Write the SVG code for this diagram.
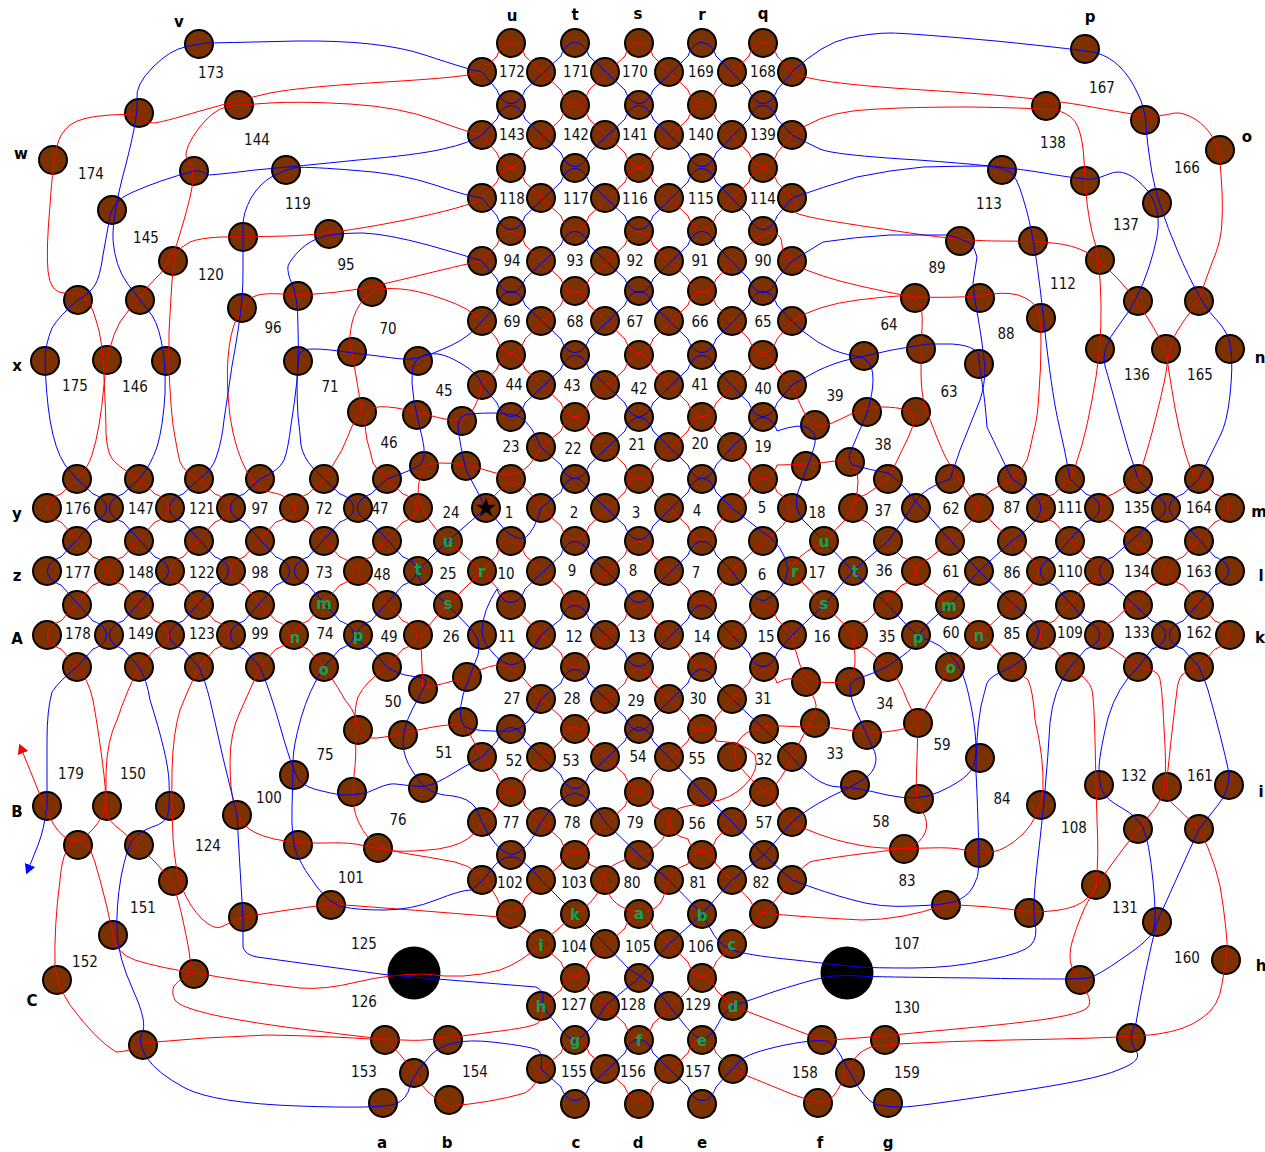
<svg xmlns="http://www.w3.org/2000/svg" width="1265" height="1152" viewBox="0 0 1265 1152">
<style>
#nodes circle{fill:#7b3100;stroke:#000;stroke-width:2}
#connectors path{fill:none;stroke-width:1}
.r{stroke:#f00}
.b{stroke:#00f}
text{text-anchor:middle;dominant-baseline:central;font-family:"DejaVu Sans Condensed","DejaVu Sans",sans-serif;font-stretch:condensed;font-size:15px;fill:#111}
.L text{font-weight:bold;fill:#000;font-stretch:normal;font-family:"DejaVu Sans",sans-serif}
.G text{font-weight:bold;fill:#0aa550;font-stretch:normal;font-family:"DejaVu Sans",sans-serif}
</style>
<defs>
<marker id="ar" markerUnits="userSpaceOnUse" markerWidth="12" markerHeight="12" refX="0" refY="6" orient="auto"><path d="M0 .5L10 6L0 11.500Z" fill="#f00"/></marker>
<marker id="ab" markerUnits="userSpaceOnUse" markerWidth="12" markerHeight="12" refX="0" refY="6" orient="auto"><path d="M0 .5L10 6L0 11.500Z" fill="#00f"/></marker>
</defs>
<rect width="1265" height="1152" fill="#fff"/>
<g id="nodes">
<g id="n511_43"><circle cx="511" cy="43" r="14"/></g><g id="n575_43"><circle cx="575" cy="43" r="14"/></g><g id="n639_43"><circle cx="639" cy="43" r="14"/></g><g id="n702_43"><circle cx="702" cy="43" r="14"/></g><g id="n763_43"><circle cx="763" cy="43" r="14"/></g>
<g id="n482_72"><circle cx="482" cy="72" r="14"/></g><g id="n541_72"><circle cx="541" cy="72" r="14"/></g><g id="n605_72"><circle cx="605" cy="72" r="14"/></g><g id="n669_72"><circle cx="669" cy="72" r="14"/></g><g id="n732_72"><circle cx="732" cy="72" r="14"/></g><g id="n792_72"><circle cx="792" cy="72" r="14"/></g>
<g id="n511_105"><circle cx="511" cy="105" r="14"/></g><g id="n575_105"><circle cx="575" cy="105" r="14"/></g><g id="n639_105"><circle cx="639" cy="105" r="14"/></g><g id="n702_105"><circle cx="702" cy="105" r="14"/></g><g id="n763_105"><circle cx="763" cy="105" r="14"/></g>
<g id="n482_135"><circle cx="482" cy="135" r="14"/></g><g id="n541_135"><circle cx="541" cy="135" r="14"/></g><g id="n605_135"><circle cx="605" cy="135" r="14"/></g><g id="n669_135"><circle cx="669" cy="135" r="14"/></g><g id="n732_135"><circle cx="732" cy="135" r="14"/></g><g id="n792_135"><circle cx="792" cy="135" r="14"/></g>
<g id="n511_168"><circle cx="511" cy="168" r="14"/></g><g id="n575_168"><circle cx="575" cy="168" r="14"/></g><g id="n639_168"><circle cx="639" cy="168" r="14"/></g><g id="n702_168"><circle cx="702" cy="168" r="14"/></g><g id="n763_168"><circle cx="763" cy="168" r="14"/></g>
<g id="n482_198"><circle cx="482" cy="198" r="14"/></g><g id="n541_198"><circle cx="541" cy="198" r="14"/></g><g id="n605_198"><circle cx="605" cy="198" r="14"/></g><g id="n669_198"><circle cx="669" cy="198" r="14"/></g><g id="n732_198"><circle cx="732" cy="198" r="14"/></g><g id="n792_198"><circle cx="792" cy="198" r="14"/></g>
<g id="n511_231"><circle cx="511" cy="231" r="14"/></g><g id="n575_231"><circle cx="575" cy="231" r="14"/></g><g id="n639_231"><circle cx="639" cy="231" r="14"/></g><g id="n702_231"><circle cx="702" cy="231" r="14"/></g><g id="n763_231"><circle cx="763" cy="231" r="14"/></g>
<g id="n482_261"><circle cx="482" cy="261" r="14"/></g><g id="n541_261"><circle cx="541" cy="261" r="14"/></g><g id="n605_261"><circle cx="605" cy="261" r="14"/></g><g id="n669_261"><circle cx="669" cy="261" r="14"/></g><g id="n732_261"><circle cx="732" cy="261" r="14"/></g><g id="n792_261"><circle cx="792" cy="261" r="14"/></g>
<g id="n511_291"><circle cx="511" cy="291" r="14"/></g><g id="n575_291"><circle cx="575" cy="291" r="14"/></g><g id="n639_291"><circle cx="639" cy="291" r="14"/></g><g id="n702_291"><circle cx="702" cy="291" r="14"/></g><g id="n763_291"><circle cx="763" cy="291" r="14"/></g>
<g id="n482_321"><circle cx="482" cy="321" r="14"/></g><g id="n541_321"><circle cx="541" cy="321" r="14"/></g><g id="n605_321"><circle cx="605" cy="321" r="14"/></g><g id="n669_321"><circle cx="669" cy="321" r="14"/></g><g id="n732_321"><circle cx="732" cy="321" r="14"/></g><g id="n792_321"><circle cx="792" cy="321" r="14"/></g>
<g id="n511_355"><circle cx="511" cy="355" r="14"/></g><g id="n575_355"><circle cx="575" cy="355" r="14"/></g><g id="n639_355"><circle cx="639" cy="355" r="14"/></g><g id="n702_355"><circle cx="702" cy="355" r="14"/></g><g id="n763_355"><circle cx="763" cy="355" r="14"/></g>
<g id="n482_385"><circle cx="482" cy="385" r="14"/></g><g id="n541_385"><circle cx="541" cy="385" r="14"/></g><g id="n605_385"><circle cx="605" cy="385" r="14"/></g><g id="n669_385"><circle cx="669" cy="385" r="14"/></g><g id="n732_385"><circle cx="732" cy="385" r="14"/></g><g id="n792_385"><circle cx="792" cy="385" r="14"/></g>
<g id="n511_417"><circle cx="511" cy="417" r="14"/></g><g id="n575_417"><circle cx="575" cy="417" r="14"/></g><g id="n639_417"><circle cx="639" cy="417" r="14"/></g><g id="n702_417"><circle cx="702" cy="417" r="14"/></g><g id="n763_417"><circle cx="763" cy="417" r="14"/></g>
<g id="n541_447"><circle cx="541" cy="447" r="14"/></g><g id="n605_447"><circle cx="605" cy="447" r="14"/></g><g id="n669_447"><circle cx="669" cy="447" r="14"/></g><g id="n732_447"><circle cx="732" cy="447" r="14"/></g>
<g id="n511_479"><circle cx="511" cy="479" r="14"/></g><g id="n575_479"><circle cx="575" cy="479" r="14"/></g><g id="n639_479"><circle cx="639" cy="479" r="14"/></g><g id="n702_479"><circle cx="702" cy="479" r="14"/></g><g id="n763_479"><circle cx="763" cy="479" r="14"/></g>
<g id="n486_508"><circle cx="486" cy="508" r="14"/></g><g id="n541_508"><circle cx="541" cy="508" r="14"/></g><g id="n605_508"><circle cx="605" cy="508" r="14"/></g><g id="n669_508"><circle cx="669" cy="508" r="14"/></g><g id="n732_508"><circle cx="732" cy="508" r="14"/></g><g id="n792_508"><circle cx="792" cy="508" r="14"/></g>
<g id="n511_541"><circle cx="511" cy="541" r="14"/></g><g id="n575_541"><circle cx="575" cy="541" r="14"/></g><g id="n639_541"><circle cx="639" cy="541" r="14"/></g><g id="n702_541"><circle cx="702" cy="541" r="14"/></g><g id="n763_541"><circle cx="763" cy="541" r="14"/></g>
<g id="n482_571"><circle cx="482" cy="571" r="14"/></g><g id="n541_571"><circle cx="541" cy="571" r="14"/></g><g id="n605_571"><circle cx="605" cy="571" r="14"/></g><g id="n669_571"><circle cx="669" cy="571" r="14"/></g><g id="n732_571"><circle cx="732" cy="571" r="14"/></g><g id="n792_571"><circle cx="792" cy="571" r="14"/></g>
<g id="n511_605"><circle cx="511" cy="605" r="14"/></g><g id="n575_605"><circle cx="575" cy="605" r="14"/></g><g id="n639_605"><circle cx="639" cy="605" r="14"/></g><g id="n702_605"><circle cx="702" cy="605" r="14"/></g><g id="n764_605"><circle cx="764" cy="605" r="14"/></g>
<g id="n482_635"><circle cx="482" cy="635" r="14"/></g><g id="n541_635"><circle cx="541" cy="635" r="14"/></g><g id="n605_635"><circle cx="605" cy="635" r="14"/></g><g id="n669_635"><circle cx="669" cy="635" r="14"/></g><g id="n732_635"><circle cx="732" cy="635" r="14"/></g><g id="n792_635"><circle cx="792" cy="635" r="14"/></g>
<g id="n511_667"><circle cx="511" cy="667" r="14"/></g><g id="n575_667"><circle cx="575" cy="667" r="14"/></g><g id="n639_667"><circle cx="639" cy="667" r="14"/></g><g id="n702_667"><circle cx="702" cy="667" r="14"/></g><g id="n764_667"><circle cx="764" cy="667" r="14"/></g>
<g id="n541_699"><circle cx="541" cy="699" r="14"/></g><g id="n605_699"><circle cx="605" cy="699" r="14"/></g><g id="n669_699"><circle cx="669" cy="699" r="14"/></g><g id="n732_699"><circle cx="732" cy="699" r="14"/></g>
<g id="n511_729"><circle cx="511" cy="729" r="14"/></g><g id="n575_729"><circle cx="575" cy="729" r="14"/></g><g id="n639_729"><circle cx="639" cy="729" r="14"/></g><g id="n702_729"><circle cx="702" cy="729" r="14"/></g><g id="n764_729"><circle cx="764" cy="729" r="14"/></g>
<g id="n482_757"><circle cx="482" cy="757" r="14"/></g><g id="n541_757"><circle cx="541" cy="757" r="14"/></g><g id="n605_757"><circle cx="605" cy="757" r="14"/></g><g id="n669_757"><circle cx="669" cy="757" r="14"/></g><g id="n732_757"><circle cx="732" cy="757" r="14"/></g><g id="n792_757"><circle cx="792" cy="757" r="14"/></g>
<g id="n511_792"><circle cx="511" cy="792" r="14"/></g><g id="n575_792"><circle cx="575" cy="792" r="14"/></g><g id="n639_792"><circle cx="639" cy="792" r="14"/></g><g id="n702_792"><circle cx="702" cy="792" r="14"/></g><g id="n764_792"><circle cx="764" cy="792" r="14"/></g>
<g id="n482_822"><circle cx="482" cy="822" r="14"/></g><g id="n541_822"><circle cx="541" cy="822" r="14"/></g><g id="n605_822"><circle cx="605" cy="822" r="14"/></g><g id="n669_822"><circle cx="669" cy="822" r="14"/></g><g id="n732_822"><circle cx="732" cy="822" r="14"/></g><g id="n792_822"><circle cx="792" cy="822" r="14"/></g>
<g id="n511_855"><circle cx="511" cy="855" r="14"/></g><g id="n575_855"><circle cx="575" cy="855" r="14"/></g><g id="n639_855"><circle cx="639" cy="855" r="14"/></g><g id="n702_855"><circle cx="702" cy="855" r="14"/></g><g id="n764_855"><circle cx="764" cy="855" r="14"/></g>
<g id="n482_880"><circle cx="482" cy="880" r="14"/></g><g id="n541_880"><circle cx="541" cy="880" r="14"/></g><g id="n605_880"><circle cx="605" cy="880" r="14"/></g><g id="n669_880"><circle cx="669" cy="880" r="14"/></g><g id="n732_880"><circle cx="732" cy="880" r="14"/></g><g id="n792_880"><circle cx="792" cy="880" r="14"/></g>
<g id="n511_914"><circle cx="511" cy="914" r="14"/></g><g id="n575_914"><circle cx="575" cy="914" r="14"/></g><g id="n639_914"><circle cx="639" cy="914" r="14"/></g><g id="n702_914"><circle cx="702" cy="914" r="14"/></g><g id="n764_914"><circle cx="764" cy="914" r="14"/></g>
<g id="n541_944"><circle cx="541" cy="944" r="14"/></g><g id="n605_944"><circle cx="605" cy="944" r="14"/></g><g id="n669_944"><circle cx="669" cy="944" r="14"/></g><g id="n732_944"><circle cx="732" cy="944" r="14"/></g>
<g id="n575_978"><circle cx="575" cy="978" r="14"/></g><g id="n639_978"><circle cx="639" cy="978" r="14"/></g><g id="n702_978"><circle cx="702" cy="978" r="14"/></g>
<g id="n541_1006"><circle cx="541" cy="1006" r="14"/></g><g id="n605_1006"><circle cx="605" cy="1006" r="14"/></g><g id="n669_1006"><circle cx="669" cy="1006" r="14"/></g><g id="n733_1006"><circle cx="733" cy="1006" r="14"/></g>
<g id="n575_1040"><circle cx="575" cy="1040" r="14"/></g><g id="n639_1040"><circle cx="639" cy="1040" r="14"/></g><g id="n702_1040"><circle cx="702" cy="1040" r="14"/></g>
<g id="n541_1069"><circle cx="541" cy="1069" r="14"/></g><g id="n605_1069"><circle cx="605" cy="1069" r="14"/></g><g id="n669_1069"><circle cx="669" cy="1069" r="14"/></g><g id="n733_1069"><circle cx="733" cy="1069" r="14"/></g>
<g id="n575_1104"><circle cx="575" cy="1104" r="14"/></g><g id="n639_1104"><circle cx="639" cy="1104" r="14"/></g><g id="n702_1104"><circle cx="702" cy="1104" r="14"/></g>
<g id="n77_479"><circle cx="77" cy="479" r="14"/></g><g id="n139_479"><circle cx="139" cy="479" r="14"/></g><g id="n199_479"><circle cx="199" cy="479" r="14"/></g><g id="n260_479"><circle cx="260" cy="479" r="14"/></g><g id="n324_479"><circle cx="324" cy="479" r="14"/></g><g id="n387_479"><circle cx="387" cy="479" r="14"/></g><g id="n424_466"><circle cx="424" cy="466" r="14"/></g><g id="n466_466"><circle cx="466" cy="466" r="14"/></g>
<g id="n47_508"><circle cx="47" cy="508" r="14"/></g><g id="n109_508"><circle cx="109" cy="508" r="14"/></g><g id="n170_508"><circle cx="170" cy="508" r="14"/></g><g id="n231_508"><circle cx="231" cy="508" r="14"/></g><g id="n294_508"><circle cx="294" cy="508" r="14"/></g><g id="n358_508"><circle cx="358" cy="508" r="14"/></g><g id="n418_508"><circle cx="418" cy="508" r="14"/></g>
<g id="n77_541"><circle cx="77" cy="541" r="14"/></g><g id="n139_541"><circle cx="139" cy="541" r="14"/></g><g id="n199_541"><circle cx="199" cy="541" r="14"/></g><g id="n260_541"><circle cx="260" cy="541" r="14"/></g><g id="n324_541"><circle cx="324" cy="541" r="14"/></g><g id="n387_541"><circle cx="387" cy="541" r="14"/></g><g id="n448_541"><circle cx="448" cy="541" r="14"/></g>
<g id="n47_571"><circle cx="47" cy="571" r="14"/></g><g id="n109_571"><circle cx="109" cy="571" r="14"/></g><g id="n170_571"><circle cx="170" cy="571" r="14"/></g><g id="n231_571"><circle cx="231" cy="571" r="14"/></g><g id="n294_571"><circle cx="294" cy="571" r="14"/></g><g id="n358_571"><circle cx="358" cy="571" r="14"/></g><g id="n418_571"><circle cx="418" cy="571" r="14"/></g>
<g id="n77_605"><circle cx="77" cy="605" r="14"/></g><g id="n139_605"><circle cx="139" cy="605" r="14"/></g><g id="n199_605"><circle cx="199" cy="605" r="14"/></g><g id="n260_605"><circle cx="260" cy="605" r="14"/></g><g id="n324_605"><circle cx="324" cy="605" r="14"/></g><g id="n387_605"><circle cx="387" cy="605" r="14"/></g><g id="n448_605"><circle cx="448" cy="605" r="14"/></g>
<g id="n47_635"><circle cx="47" cy="635" r="14"/></g><g id="n109_635"><circle cx="109" cy="635" r="14"/></g><g id="n170_635"><circle cx="170" cy="635" r="14"/></g><g id="n231_635"><circle cx="231" cy="635" r="14"/></g><g id="n294_635"><circle cx="294" cy="635" r="14"/></g><g id="n358_635"><circle cx="358" cy="635" r="14"/></g><g id="n418_635"><circle cx="418" cy="635" r="14"/></g>
<g id="n77_667"><circle cx="77" cy="667" r="14"/></g><g id="n139_667"><circle cx="139" cy="667" r="14"/></g><g id="n199_667"><circle cx="199" cy="667" r="14"/></g><g id="n260_667"><circle cx="260" cy="667" r="14"/></g><g id="n324_667"><circle cx="324" cy="667" r="14"/></g><g id="n387_667"><circle cx="387" cy="667" r="14"/></g><g id="n423_689"><circle cx="423" cy="689" r="14"/></g><g id="n467_677"><circle cx="467" cy="677" r="14"/></g>
<g id="n888_479"><circle cx="888" cy="479" r="14"/></g><g id="n950_479"><circle cx="950" cy="479" r="14"/></g><g id="n1012_479"><circle cx="1012" cy="479" r="14"/></g><g id="n1070_479"><circle cx="1070" cy="479" r="14"/></g><g id="n1138_479"><circle cx="1138" cy="479" r="14"/></g><g id="n1199_479"><circle cx="1199" cy="479" r="14"/></g><g id="n806_466"><circle cx="806" cy="466" r="14"/></g><g id="n850_462"><circle cx="850" cy="462" r="14"/></g>
<g id="n853_508"><circle cx="853" cy="508" r="14"/></g><g id="n916_508"><circle cx="916" cy="508" r="14"/></g><g id="n979_508"><circle cx="979" cy="508" r="14"/></g><g id="n1041_508"><circle cx="1041" cy="508" r="14"/></g><g id="n1099_508"><circle cx="1099" cy="508" r="14"/></g><g id="n1166_508"><circle cx="1166" cy="508" r="14"/></g><g id="n1230_508"><circle cx="1230" cy="508" r="14"/></g>
<g id="n824_541"><circle cx="824" cy="541" r="14"/></g><g id="n888_541"><circle cx="888" cy="541" r="14"/></g><g id="n950_541"><circle cx="950" cy="541" r="14"/></g><g id="n1012_541"><circle cx="1012" cy="541" r="14"/></g><g id="n1070_541"><circle cx="1070" cy="541" r="14"/></g><g id="n1138_541"><circle cx="1138" cy="541" r="14"/></g><g id="n1199_541"><circle cx="1199" cy="541" r="14"/></g>
<g id="n853_571"><circle cx="853" cy="571" r="14"/></g><g id="n916_571"><circle cx="916" cy="571" r="14"/></g><g id="n979_571"><circle cx="979" cy="571" r="14"/></g><g id="n1041_571"><circle cx="1041" cy="571" r="14"/></g><g id="n1099_571"><circle cx="1099" cy="571" r="14"/></g><g id="n1166_571"><circle cx="1166" cy="571" r="14"/></g><g id="n1230_571"><circle cx="1230" cy="571" r="14"/></g>
<g id="n824_605"><circle cx="824" cy="605" r="14"/></g><g id="n888_605"><circle cx="888" cy="605" r="14"/></g><g id="n950_605"><circle cx="950" cy="605" r="14"/></g><g id="n1012_605"><circle cx="1012" cy="605" r="14"/></g><g id="n1070_605"><circle cx="1070" cy="605" r="14"/></g><g id="n1138_605"><circle cx="1138" cy="605" r="14"/></g><g id="n1199_605"><circle cx="1199" cy="605" r="14"/></g>
<g id="n853_635"><circle cx="853" cy="635" r="14"/></g><g id="n916_635"><circle cx="916" cy="635" r="14"/></g><g id="n979_635"><circle cx="979" cy="635" r="14"/></g><g id="n1041_635"><circle cx="1041" cy="635" r="14"/></g><g id="n1099_635"><circle cx="1099" cy="635" r="14"/></g><g id="n1166_635"><circle cx="1166" cy="635" r="14"/></g><g id="n1230_635"><circle cx="1230" cy="635" r="14"/></g>
<g id="n888_667"><circle cx="888" cy="667" r="14"/></g><g id="n950_667"><circle cx="950" cy="667" r="14"/></g><g id="n1012_667"><circle cx="1012" cy="667" r="14"/></g><g id="n1070_667"><circle cx="1070" cy="667" r="14"/></g><g id="n1138_667"><circle cx="1138" cy="667" r="14"/></g><g id="n1199_667"><circle cx="1199" cy="667" r="14"/></g><g id="n806_682"><circle cx="806" cy="682" r="14"/></g><g id="n850_682"><circle cx="850" cy="682" r="14"/></g>
<g id="n199_44"><circle cx="199" cy="44" r="14"/></g><g id="n139_113"><circle cx="139" cy="113" r="14"/></g><g id="n239_105"><circle cx="239" cy="105" r="14"/></g><g id="n53_160"><circle cx="53" cy="160" r="14"/></g><g id="n194_171"><circle cx="194" cy="171" r="14"/></g><g id="n286_170"><circle cx="286" cy="170" r="14"/></g><g id="n112_210"><circle cx="112" cy="210" r="14"/></g><g id="n243_237"><circle cx="243" cy="237" r="14"/></g><g id="n329_234"><circle cx="329" cy="234" r="14"/></g><g id="n173_261"><circle cx="173" cy="261" r="14"/></g><g id="n78_300"><circle cx="78" cy="300" r="14"/></g><g id="n140_300"><circle cx="140" cy="300" r="14"/></g><g id="n298_296"><circle cx="298" cy="296" r="14"/></g><g id="n372_292"><circle cx="372" cy="292" r="14"/></g><g id="n242_308"><circle cx="242" cy="308" r="14"/></g><g id="n45_361"><circle cx="45" cy="361" r="14"/></g><g id="n107_360"><circle cx="107" cy="360" r="14"/></g><g id="n166_361"><circle cx="166" cy="361" r="14"/></g><g id="n298_361"><circle cx="298" cy="361" r="14"/></g><g id="n352_352"><circle cx="352" cy="352" r="14"/></g><g id="n418_361"><circle cx="418" cy="361" r="14"/></g><g id="n362_412"><circle cx="362" cy="412" r="14"/></g><g id="n417_415"><circle cx="417" cy="415" r="14"/></g><g id="n462_421"><circle cx="462" cy="421" r="14"/></g>
<g id="n1085_49"><circle cx="1085" cy="49" r="14"/></g><g id="n1046_106"><circle cx="1046" cy="106" r="14"/></g><g id="n1145_120"><circle cx="1145" cy="120" r="14"/></g><g id="n1220_150"><circle cx="1220" cy="150" r="14"/></g><g id="n1002_170"><circle cx="1002" cy="170" r="14"/></g><g id="n1085_181"><circle cx="1085" cy="181" r="14"/></g><g id="n1157_203"><circle cx="1157" cy="203" r="14"/></g><g id="n960_241"><circle cx="960" cy="241" r="14"/></g><g id="n1033_241"><circle cx="1033" cy="241" r="14"/></g><g id="n1100_260"><circle cx="1100" cy="260" r="14"/></g><g id="n915_298"><circle cx="915" cy="298" r="14"/></g><g id="n980_298"><circle cx="980" cy="298" r="14"/></g><g id="n1041_318"><circle cx="1041" cy="318" r="14"/></g><g id="n1138_301"><circle cx="1138" cy="301" r="14"/></g><g id="n1199_301"><circle cx="1199" cy="301" r="14"/></g><g id="n1100_349"><circle cx="1100" cy="349" r="14"/></g><g id="n1166_349"><circle cx="1166" cy="349" r="14"/></g><g id="n1230_349"><circle cx="1230" cy="349" r="14"/></g><g id="n864_356"><circle cx="864" cy="356" r="14"/></g><g id="n921_349"><circle cx="921" cy="349" r="14"/></g><g id="n979_364"><circle cx="979" cy="364" r="14"/></g><g id="n815_425"><circle cx="815" cy="425" r="14"/></g><g id="n867_412"><circle cx="867" cy="412" r="14"/></g><g id="n916_412"><circle cx="916" cy="412" r="14"/></g>
<g id="n47_806"><circle cx="47" cy="806" r="14"/></g><g id="n107_806"><circle cx="107" cy="806" r="14"/></g><g id="n170_806"><circle cx="170" cy="806" r="14"/></g><g id="n78_845"><circle cx="78" cy="845" r="14"/></g><g id="n139_845"><circle cx="139" cy="845" r="14"/></g><g id="n173_881"><circle cx="173" cy="881" r="14"/></g><g id="n113_935"><circle cx="113" cy="935" r="14"/></g><g id="n57_980"><circle cx="57" cy="980" r="14"/></g><g id="n194_974"><circle cx="194" cy="974" r="14"/></g><g id="n143_1045"><circle cx="143" cy="1045" r="14"/></g><g id="n237_815"><circle cx="237" cy="815" r="14"/></g><g id="n294_775"><circle cx="294" cy="775" r="14"/></g><g id="n298_845"><circle cx="298" cy="845" r="14"/></g><g id="n243_917"><circle cx="243" cy="917" r="14"/></g><g id="n331_905"><circle cx="331" cy="905" r="14"/></g><g id="n378_848"><circle cx="378" cy="848" r="14"/></g><g id="n352_792"><circle cx="352" cy="792" r="14"/></g><g id="n358_730"><circle cx="358" cy="730" r="14"/></g><g id="n403_735"><circle cx="403" cy="735" r="14"/></g><g id="n423_788"><circle cx="423" cy="788" r="14"/></g><g id="n463_722"><circle cx="463" cy="722" r="14"/></g><g id="n385_1040"><circle cx="385" cy="1040" r="14"/></g><g id="n448_1040"><circle cx="448" cy="1040" r="14"/></g><g id="n414_1073"><circle cx="414" cy="1073" r="14"/></g><g id="n383_1103"><circle cx="383" cy="1103" r="14"/></g><g id="n449_1100"><circle cx="449" cy="1100" r="14"/></g>
<g id="n815_723"><circle cx="815" cy="723" r="14"/></g><g id="n867_735"><circle cx="867" cy="735" r="14"/></g><g id="n918_723"><circle cx="918" cy="723" r="14"/></g><g id="n855_785"><circle cx="855" cy="785" r="14"/></g><g id="n980_758"><circle cx="980" cy="758" r="14"/></g><g id="n919_799"><circle cx="919" cy="799" r="14"/></g><g id="n904_849"><circle cx="904" cy="849" r="14"/></g><g id="n979_853"><circle cx="979" cy="853" r="14"/></g><g id="n1041_805"><circle cx="1041" cy="805" r="14"/></g><g id="n946_905"><circle cx="946" cy="905" r="14"/></g><g id="n1029_913"><circle cx="1029" cy="913" r="14"/></g><g id="n1099_785"><circle cx="1099" cy="785" r="14"/></g><g id="n1167_787"><circle cx="1167" cy="787" r="14"/></g><g id="n1138_829"><circle cx="1138" cy="829" r="14"/></g><g id="n1199_829"><circle cx="1199" cy="829" r="14"/></g><g id="n1096_885"><circle cx="1096" cy="885" r="14"/></g><g id="n1157_922"><circle cx="1157" cy="922" r="14"/></g><g id="n1229_785"><circle cx="1229" cy="785" r="14"/></g><g id="n1226_960"><circle cx="1226" cy="960" r="14"/></g><g id="n1080_980"><circle cx="1080" cy="980" r="14"/></g><g id="n1131_1038"><circle cx="1131" cy="1038" r="14"/></g><g id="n822_1040"><circle cx="822" cy="1040" r="14"/></g><g id="n885_1040"><circle cx="885" cy="1040" r="14"/></g><g id="n850_1073"><circle cx="850" cy="1073" r="14"/></g><g id="n818_1103"><circle cx="818" cy="1103" r="14"/></g><g id="n888_1103"><circle cx="888" cy="1103" r="14"/></g>
</g>
<g id="holes"><circle cx="414" cy="973" r="26.500" fill="#000"/><circle cx="847" cy="973" r="26.500" fill="#000"/></g>
<g id="connectors">
<path class="r" d="M482 72Q470 77 385 82Q300 87 270 93Q239 100 200 111Q160 123 153 123Q147 123 143 118Q139 113 110 115Q80 117 70 125Q60 133 57 146Q53 160 50 205Q46 250 48 271Q50 293 64 293Q78 293 84 296Q90 300 96 320Q103 340 104 378Q106 417 106 433Q107 450 111 457Q115 465 139 479l16 15c18 6 18 22 0 28l-32 35c-18 6-18 22 0 28l32 36c18 6 18 22 0 28l-16 18Q127 690 117 720Q107 740 106 773Q106 806 106 813Q107 820 123 832Q139 845 156 863Q173 881 176 893Q180 905 187 940Q194 974 186 977Q178 980 174 986Q171 993 175 1000Q179 1007 214 1015Q250 1023 317 1031Q385 1040 403 1040Q421 1041 434 1039Q448 1038 492 1032Q536 1027 539 1022Q543 1018 541 1006l20-16c6-18 22-18 28 0l36 34c6 18 22 18 28 0l35-34c6-18 22-18 28 0l16 16"/>
<path class="r" d="M482 72l15-16c6-18 22-18 28 0l36 34c6 18 22 18 28 0l36-34c6-18 22-18 28 0l35 34c6 18 22 18 28 0l33-34c6-18 22-18 28 0l15 16Q807 83 923 90Q1040 97 1092 107Q1145 117 1156 116Q1167 115 1175 113Q1183 112 1195 119Q1207 127 1213 138Q1220 150 1221 175Q1223 200 1222 220Q1222 240 1212 263Q1203 287 1201 294Q1199 301 1188 315Q1177 330 1172 341Q1168 353 1167 365Q1166 377 1157 413Q1148 450 1138 479l-25 15c-18 6-18 22 0 28l39 35c18 6 18 22 0 28l-39 36c-18 6-18 22 0 28l25 18Q1157 670 1159 676Q1162 683 1164 728Q1167 773 1164 788Q1161 803 1149 816Q1138 829 1117 857Q1096 885 1085 907Q1075 930 1071 946Q1068 963 1074 971Q1080 980 1086 991Q1093 1003 1087 1008Q1082 1013 1053 1018Q1024 1023 934 1031Q844 1040 822 1040L733 1006"/>
<path class="r" marker-end="url(#ar)" d="M482 135Q470 133 435 120Q400 107 350 104Q300 101 270 103Q239 105 226 107Q213 110 199 128Q185 147 186 156Q194 167 193 180Q192 193 182 227Q173 261 160 274Q147 287 143 293Q132 305 120 322Q107 345 104 385Q100 430 92 455Q87 470 77 479l-16 15c-18 6-18 22 0 28l32 35c18 6 18 22 0 28l-32 36c-18 6-18 22 0 28l16 18Q88 678 93 700Q100 740 104 775Q107 800 104 812Q98 825 89 833Q78 843 70 840Q62 837 54 825Q44 808 36 785L23 753"/>
<path class="r" d="M482 135l15 18c6 18 22 18 28 0l36-34c6-18 22-18 28 0l36 34c6 18 22 18 28 0l35-34c6-18 22-18 28 0l33 34c6 18 22 18 28 0l15-18Q817 115 853 111Q890 107 968 107Q1046 108 1059 111Q1073 115 1078 127Q1083 140 1084 160Q1085 180 1087 203Q1090 227 1095 243Q1100 260 1101 304Q1102 349 1092 400Q1083 450 1070 479l-16 15c-18 6-18 22 0 28l32 35c18 6 18 22 0 28l-32 36c-18 6-18 22 0 28l16 18"/>
<path class="r" d="M482 198Q470 207 400 221Q329 235 286 236Q243 237 221 237Q200 238 190 242Q180 247 176 254Q173 261 171 297Q168 333 169 366Q170 400 173 425Q177 450 180 462Q185 473 199 479l16 15c18 6 18 22 0 28l-32 35c-18 6-18 22 0 28l32 36c18 6 18 22 0 28l-16 18Q190 685 180 710Q173 733 172 770Q171 806 173 838Q175 870 182 888Q190 907 202 919Q214 930 221 927Q229 923 243 917Q285 910 331 904Q415 910 500 917Q525 925 541 944l20 18c6 18 22 18 28 0l36-34c6-18 22-18 28 0l35 34c6 18 22 18 28 0l16-18"/>
<path class="r" d="M482 198l15-16c6-18 22-18 28 0l36 34c6 18 22 18 28 0l36-34c6-18 22-18 28 0l35 34c6 18 22 18 28 0l33-34c6-18 22-18 28 0l15 16Q797 207 795 210Q792 213 806 216Q820 220 890 230Q960 241 996 241Q1033 241 1053 243Q1073 245 1086 252Q1100 260 1119 280Q1138 301 1152 325Q1166 349 1167 358Q1168 367 1175 408Q1183 450 1190 467Q1192 473 1199 479l16 15c18 6 18 22 0 28l-32 35c-18 6-18 22 0 28l32 36c18 6 18 22 0 28l-16 18Q1187 670 1182 675Q1178 680 1177 690Q1172 730 1169 760Q1167 773 1167 790Q1167 798 1172 803L1199 829Q1219 867 1223 905Q1228 943 1227 952Q1226 960 1222 984Q1219 1007 1202 1018Q1186 1030 1158 1034Q1131 1038 1008 1040Q885 1043 871 1047Q858 1052 854 1060Q850 1067 841 1084Q833 1100 825 1102Q817 1103 794 1095L733 1070"/>
<path class="r" d="M482 261Q470 263 421 275Q372 287 352 290Q333 293 315 294Q298 295 282 294Q267 293 258 295Q250 297 246 302Q242 308 236 320Q230 333 228 358Q226 383 230 416Q235 450 247 472Q255 488 270 492Q290 495 295 508Q296 516 276 522l-32 35c-18 6-18 22 0 28l32 36c18 6 18 22 0 28l-16 18Q250 690 240 712Q230 733 230 762Q230 790 234 803Q237 815 244 824Q250 833 274 839Q298 844 325 843Q352 842 365 846Q378 849 395 851Q411 852 438 849Q464 845 473 834Q482 829 482 822l15-16c6-18 22-18 28 0l36 34c6 18 22 18 28 0l36-34c6-18 22-18 28 0Q669 812 669 825Q666 840 650 850Q622 860 612 866Q603 872 601 885Q596 902 575 914L541 944Q522 962 500 970Q464 980 425 974Q390 974 357 982Q325 990 300 988Q245 982 196 973Q160 968 135 960Q115 953 113 935Q107 905 100 880Q95 860 89 846Q80 838 72 843Q62 852 60 880Q54 925 55 967Q57 985 70 1005Q96 1040 116 1052Q130 1052 143 1043Q205 1037 268 1035Q330 1036 385 1040Q400 1052 414 1073Q425 1095 449 1106Q490 1103 525 1093Q538 1085 541 1069l20-16c6-18 22-18 28 0l36 34c6 18 22 18 28 0l35-34c6-18 22-18 28 0l16 16"/>
<path class="r" d="M482 261l15-16c6-18 22-18 28 0l36 34c6 18 22 18 28 0l36-34c6-18 22-18 28 0l35 34c6 18 22 18 28 0l33-34Q763 231 775 233Q782 236 782 245Q782 255 795 265Q820 277 860 286Q900 295 915 297Q950 298 980 296Q1003 291 1018 295Q1033 300 1037 309Q1041 318 1041 343Q1041 367 1039 392Q1038 417 1033 435Q1030 450 1027 460Q1022 470 1012 479Q990 490 982 498Q977 505 976 512Q975 520 950 541L930 558Q916 565 916 571Q916 580 932 590L950 605L965 620Q979 630 985 638L1005 660Q1015 670 1028 680Q1033 690 1035 720Q1044 757 1043 790Q1040 817 1023 834Q1006 850 992 852Q979 853 965 850Q952 847 928 848Q904 849 883 848Q862 847 833 839Q805 830 792 822"/>
<path class="r" d="M482 321Q470 308 443 299Q417 290 401 289Q385 288 378 289Q372 291 363 300Q355 310 352 323Q349 337 350 344Q352 352 356 376Q360 400 361 406Q362 412 357 417Q353 423 348 436Q343 450 333 465Q328 472 324 479l-16 15c-18 6-18 22 0 28l32 35c18 6 18 22 0 28l-32 36c-18 6-18 22 0 28l16 18Q340 690 345 700Q354 710 356 720Q358 730 362 735Q366 740 385 737Q403 733 433 727Q463 722 467 728Q470 735 482 757l15 18c6 18 22 18 28 0l36-34c6-18 22-18 28 0l36 34c6 18 22 18 28 0l35-34c6-18 22-18 28 0Q745 742 755 755Q760 770 745 785Q730 800 710 802Q690 805 680 808Q669 812 669 822Q670 835 688 839c6 18 22 18 28 0l33-34c6-18 22-18 28 0l15 17"/>
<path class="r" d="M482 321l15 18c6 18 22 18 28 0l36-34c6-18 22-18 28 0l36 34c6 18 22 18 28 0l35-34c6-18 22-18 28 0l33 34c6 18 22 18 28 0l15-18Q817 305 858 300Q900 295 907 296Q915 297 919 302Q923 307 922 328Q921 349 921 371Q921 393 925 406Q930 420 936 435Q942 450 946 458Q950 465 960 481Q970 497 975 503Q979 508 995 525L1012 541Q1038 560 1038 571Q1038 582 1012 605L985 630L950 667L930 700Q918 723 910 727Q902 730 884 732Q867 733 848 730Q830 727 815 727Q800 727 782 726Q764 725 752 730Q740 735 736 746Q732 757 741 768Q750 780 764 790Q776 792 792 757L805 732Q817 713 816 705Q815 697 806 685Q793 673 777 683"/>
<path class="r" d="M482 385Q478 400 475 406Q472 413 467 417Q462 421 454 420Q447 420 432 416Q417 412 397 408Q377 405 371 409Q365 413 365 421Q365 430 367 440Q370 450 373 463Q378 472 387 479l16 15c18 6 18 22 0 28l-32 35c-18 6-18 22 0 28l32 36c18 6 18 22 0 28l-16 18Q365 682 358 697Q355 705 355 720Q357 757 354 775Q352 792 354 808Q357 823 367 836Q378 849 403 853Q428 857 455 862Q482 868 497 898c6 18 22 18 28 0l36-34c6-18 22-18 28 0Q605 870 606 885Q610 908 639 912Q662 912 665 890Q668 870 688 864c6-18 22-18 28 0L750 900Q755 912 764 913Q800 917 862 920Q900 920 946 905Q985 905 1029 912Q1060 912 1075 906Q1090 900 1096 885Q1099 857 1097 820Q1096 785 1095 740Q1094 700 1092 690Q1090 680 1070 667"/>
<path class="r" d="M482 385l15-16c6-18 22-18 28 0l36 34c6 18 22 18 28 0l36-34c6-18 22-18 28 0l35 34c6 18 22 18 28 0l33-34c6-18 22-18 28 0l15 16Q800 405 807 418Q815 428 824 426Q833 423 843 418Q853 413 860 410Q867 408 882 407Q897 407 906 410Q915 413 914 420Q913 427 908 438Q902 450 895 465Q890 475 888 479l-21 15c-18 6-18 22 0 28l35 35c18 6 18 22 0 28l-35 36c-18 6-18 22 0 28l21 18Q900 680 907 700L918 723Q917 760 916 790Q916 800 923 812Q929 823 925 833Q920 843 912 846Q904 849 860 854Q815 860 810 862Q805 865 798 872Q792 880 778 897Q764 914 755 922Q740 935 732 944"/>
<path class="r" d="M466 465Q480 468 492 472Q505 476 515 474Q530 470 541 447l20-16c6-18 22-18 28 0l36 34c6 18 22 18 28 0l35-34c6-18 22-18 28 0l16 16l17 18c6 18 22 18 28 0Q800 465 820 463L850 459"/>
<path class="r" d="M466 465Q433 460 424 467Q418 478 418 495Q420 515 448 541L482 571L512 605L541 635l20 18c6 18 22 18 28 0l36-34c6-18 22-18 28 0l35 34c6 18 22 18 28 0l16-18l17-16c6-18 22-18 28 0l15 16Q795 650 800 665Q805 678 820 682Q838 684 848 680Q856 675 855 655Q853 635 845 625L824 605L800 580Q790 570 795 562Q803 552 825 541L845 520Q858 500 858 482Q858 470 850 459"/>
<path class="r" d="M488 503Q498 490 511 482Q525 482 541 508l20 18c6 18 22 18 28 0l36-34c6-18 22-18 28 0l35 34c6 18 22 18 28 0l16-18l17-16c6-18 22-18 28 0Q790 500 790 512Q788 525 764 541L732 571l-16 18c-6 18-22 18-28 0l-35-34c-6-18-22-18-28 0l-36 34c-6 18-22 18-28 0l-36-34c-6-18-22-18-28 0l-15 16L448 605Q421 630 421 645Q422 665 423 688Q440 685 467 677Q480 668 497 665Q511 664 525 680L541 699l20 18c6 18 22 18 28 0l36-34c6-18 22-18 28 0l35 34c6 18 22 18 28 0l16-18l17-16c6-18 22-18 28 0"/>
<path class="b" d="M482 72Q470 70 425 55Q380 40 297 41Q213 43 206 43Q199 44 185 47Q170 50 153 67Q135 85 137 99Q139 113 126 164Q112 215 113 240Q115 266 127 283Q140 300 148 310Q157 320 161 340Q166 361 165 394Q163 427 157 447Q150 467 139 479l-16 15c-18 6-18 22 0 28l32 35c18 6 18 22 0 28l-32 36c-18 6-18 22 0 28l16 18Q147 680 150 700Q168 757 169 781Q170 806 168 814Q166 823 152 827Q139 832 133 839Q127 847 121 877Q116 907 117 932Q118 957 133 990Q148 1023 142 1033Q137 1043 147 1058Q157 1073 185 1088Q214 1103 298 1106Q383 1109 395 1104Q407 1100 410 1086Q414 1073 431 1055Q448 1037 492 1042Q536 1047 539 1051Q543 1055 541 1069l20 18c6 18 22 18 28 0l36-34c6-18 22-18 28 0l35 34c6 18 22 18 28 0l16-18"/>
<path class="b" d="M482 72l15 18c6 18 22 18 28 0l36-34c6-18 22-18 28 0l36 34c6 18 22 18 28 0l35-34c6-18 22-18 28 0l33 34c6 18 22 18 28 0l15-18Q823 43 848 38Q873 33 890 33Q907 33 996 41Q1085 50 1097 53Q1110 57 1120 67Q1130 77 1137 92Q1145 107 1146 125Q1147 143 1152 173Q1157 203 1178 252Q1199 301 1214 317Q1230 333 1231 350Q1233 367 1230 395Q1227 423 1220 436Q1213 450 1199 479l-16 15c-18 6-18 22 0 28l32 35c18 6 18 22 0 28l-32 36c-18 6-18 22 0 28l16 18Q1205 680 1208 690Q1222 740 1229 773Q1230 790 1218 805L1199 829L1157 922Q1145 970 1136 1023Q1127 1038 1135 1050Q1145 1060 1118 1070Q1096 1080 1006 1093Q916 1107 902 1107Q888 1107 878 1105Q869 1103 859 1088Q850 1073 843 1060Q837 1047 829 1042Q822 1038 785 1045Q747 1053 740 1061L732 1069"/>
<path class="b" marker-end="url(#ab)" d="M482 135Q470 143 443 149Q417 155 358 160Q300 166 255 170Q215 175 207 175Q202 170 194 171Q160 180 133 192Q113 200 110 216Q107 233 103 255Q100 277 95 285Q90 293 78 300Q60 315 52 328Q45 345 45 361Q46 395 50 420Q55 450 65 465L77 479l16 15c18 6 18 22 0 28l-32 35c-18 6-18 22 0 28l32 36c18 6 18 22 0 28l-16 18Q60 680 52 692Q47 710 47 740L47 806Q44 830 38 845L30 865"/>
<path class="b" d="M482 135l15-16c6-18 22-18 28 0l36 34c6 18 22 18 28 0l36-34c6-18 22-18 28 0l35 34c6 18 22 18 28 0l33-34c6-18 22-18 28 0l15 16Q807 143 820 149Q833 155 918 160Q1003 166 1044 173Q1085 180 1092 179Q1100 178 1109 174Q1118 170 1127 174Q1137 178 1147 190Q1157 203 1158 218Q1160 233 1149 267Q1138 301 1119 325Q1100 349 1105 366Q1110 383 1119 416Q1128 450 1138 479l14 15c18 6 18 22 0 28l-39 35c-18 6-18 22 0 28l39 36c18 6 18 22 0 28l-14 18Q1117 687 1108 718Q1100 750 1099 767Q1099 785 1103 792Q1107 800 1122 808Q1138 817 1143 828Q1149 840 1153 881Q1157 922 1153 931Q1150 940 1123 958Q1096 977 1088 978Q1080 980 976 978Q873 977 860 976Q847 975 833 976Q820 977 776 991L733 1006Q723 1013 718 1024Q713 1035 702 1040Q692 1035 683 1023L657 990Q645 978 628 968L605 944L575 914L541 880Q520 855 511 857Q500 857 491 870Q482 883 471 890Q461 890 436 900Q411 910 384 910Q357 910 344 907Q331 905 317 887Q304 870 297 855Q291 840 292 807Q293 775 293 761Q293 747 301 718Q309 690 324 667"/>
<path class="b" d="M482 198Q470 197 435 185Q400 173 350 170Q300 166 293 168Q286 170 273 176Q260 183 251 198Q243 213 243 225Q243 237 243 268Q243 300 240 316Q238 333 232 366Q227 400 224 420Q222 440 217 455Q213 470 199 479l-16 15c-18 6-18 22 0 28l32 35c18 6 18 22 0 28l-32 36c-18 6-18 22 0 28l16 18Q205 680 210 700Q223 760 237 815Q240 870 243 917L243 947Q245 955 257 957Q322 966 388 975Q462 981 536 987Q543 990 543 997Q540 1006 555 1022Q568 1040 575 1040Q590 1035 605 1006L639 978L669 944L702 914L732 880L764 855L792 822Q805 810 830 797Q855 785 864 779Q873 773 875 765Q878 757 872 746Q867 735 861 722Q855 710 852 700Q850 690 850 686Q850 682 857 679Q865 676 876 672Q888 667 901 657Q915 647 915 643Q916 640 921 632Q927 623 938 614L950 605L979 571L1012 541Q1041 520 1041 508Q1041 497 1012 479Q993 440 987 427Q985 400 982 382Q979 364 979 358Q980 353 973 349Q967 345 952 344Q937 344 929 344Q921 345 892 350Q864 356 843 361Q823 367 808 376L792 385"/>
<path class="b" d="M482 198l15 18c6 18 22 18 28 0l36-34c6-18 22-18 28 0l36 34c6 18 22 18 28 0l35-34c6-18 22-18 28 0l33 34c6 18 22 18 28 0l15-18Q823 187 857 177Q890 170 923 167Q956 166 990 166Q1003 168 1010 172Q1017 177 1023 198Q1030 220 1035 251Q1040 283 1046 341Q1053 400 1059 425Q1065 450 1070 479l16 15c18 6 18 22 0 28l-32 35c-18 6-18 22 0 28l32 36c18 6 18 22 0 28l-16 18Q1053 690 1050 723Q1048 757 1045 790Q1042 823 1037 866Q1032 910 1035 923Q1038 937 1031 945Q1024 953 988 960Q952 968 912 968Q873 968 860 967Q847 966 795 960Q743 955 730 949Q717 943 710 928L702 914L669 880L639 855L605 822Q590 795 575 793Q560 795 541 822Q528 852 511 855Q495 850 482 822Q477 810 475 807Q468 798 453 796Q439 795 431 791Q423 787 413 772Q403 757 403 742Q403 727 413 708Q423 690 425 685Q427 680 425 679Q423 678 411 676Q400 675 387 667"/>
<path class="b" d="M482 261Q470 257 428 245Q387 234 363 233Q340 233 325 236Q310 240 300 250Q290 260 288 266Q287 273 292 284Q298 296 298 328Q299 361 297 380Q295 400 291 425Q288 450 284 460Q280 470 260 479l-16 15c-18 6-18 22 0 28l32 35c18 6 18 22 0 28l-32 36c-18 6-18 22 0 28l16 18Q270 690 282 733Q294 775 300 781Q307 788 322 791Q338 795 345 795Q352 795 360 794Q368 793 378 788Q389 783 396 784Q404 785 413 786Q423 788 433 784Q443 780 462 768L482 757l15-16c6-18 22-18 28 0l36 34c6 18 22 18 28 0l36-34c6-18 22-18 28 0L702 792L732 822L764 855L792 880Q826 893 853 900Q880 908 913 906Q946 905 956 901Q967 897 973 887Q979 877 979 865Q979 853 978 821Q977 790 976 773Q976 757 977 740Q978 723 981 706Q985 690 987 683Q990 677 1001 672Q1012 667 1019 662Q1027 657 1032 648Q1038 640 1039 633Q1040 627 1026 615L1012 603L979 571L950 540L917 503Q900 480 888 473Q870 470 853 465Q847 458 850 453L867 413Q873 393 873 380Q873 367 868 362Q864 357 857 356Q850 356 833 350Q817 343 804 332L792 321"/>
<path class="b" d="M482 261l15 18c6 18 22 18 28 0l36-34c6-18 22-18 28 0l36 34c6 18 22 18 28 0l35-34c6-18 22-18 28 0l33 34c6 18 22 18 28 0l15-18"/>
<path class="b" d="M482 321Q470 337 450 346Q430 355 424 356Q418 358 411 359Q405 360 378 356Q352 353 331 350Q310 348 304 350Q298 353 298 357Q298 361 297 380Q297 400 298 416Q300 433 301 445Q303 457 313 468L324 479l16 15c18 6 18 22 0 28l-32 35c-18 6-18 22 0 28l32 36c18 6 18 22 0 28l-16 18"/>
<path class="b" d="M482 321l15-16c6-18 22-18 28 0l36 34c6 18 22 18 28 0l36-34c6-18 22-18 28 0l35 34c6 18 22 18 28 0l33-34c6-18 22-18 28 0l15 16"/>
<path class="b" d="M482 385Q478 373 462 364Q447 355 438 354Q430 353 424 355Q418 358 415 362Q412 367 412 383Q413 400 418 420Q423 440 424 448Q425 457 422 462Q420 467 403 473L387 479l-16 15c-18 6-18 22 0 28l32 35c18 6 18 22 0 28l-32 36c-18 6-18 22 0 28l16 18"/>
<path class="b" d="M482 385l15 18c6 18 22 18 28 0l36-34c6-18 22-18 28 0l36 34c6 18 22 18 28 0l35-34c6-18 22-18 28 0l33 34c6 18 22 18 28 0l15-18"/>
<path class="b" d="M486 508L466 470Q460 445 458 427Q458 418 465 415Q473 413 492 413Q511 413 520 417Q532 425 541 447l20 18c6 18 22 18 28 0l36-34c6-18 22-18 28 0l35 34c6 18 22 18 28 0l16-18l17-16c6-18 22-18 28 0Q800 423 808 428Q817 433 815 443Q813 453 808 465Q803 477 798 492Q793 507 803 520L824 541L853 571L888 605L916 635Q930 640 940 646Q950 653 957 663Q963 673 965 681Q968 690 972 711Q976 733 976 750Q976 767 967 775Q959 783 939 792Q919 802 887 795Q855 787 840 787Q826 787 813 777Q801 768 792 757L764 729L732 699"/>
<path class="b" d="M486 508L448 541Q425 562 418 571Q416 580 430 590L448 605L470 628Q482 640 478 655Q470 675 463 695Q457 718 465 727Q475 732 511 731Q530 728 541 699l20-16c6-18 22-18 28 0l36 34c6 18 22 18 28 0l35-34c6-18 22-18 28 0l16 16"/>
<path class="b" d="M486 508Q495 518 505 530Q515 540 525 538Q535 530 541 508l20-16c6-18 22-18 28 0l36 34c6 18 22 18 28 0l35-34c6-18 22-18 28 0l16 16L760 530Q785 545 788 570Q785 590 764 601Q750 600 732 571l-16-16c-6-18-22-18-28 0l-35 34c-6 18-22 18-28 0l-36-34c-6-18-22-18-28 0l-36 34c-6 18-22 18-28 0Q483 610 482 630Q482 642 493 653Q500 662 511 665Q525 665 541 635l20-16c6-18 22-18 28 0l36 34c6 18 22 18 28 0l35-34c6-18 22-18 28 0l16 16l17 18c6 18 22 18 28 0L792 635L824 605L853 571L888 541Q905 520 916 500Q925 488 950 479Q955 465 960 450Q970 425 980 400Q985 385 985 367Q982 340 978 317Q974 300 973 283Q975 270 977 257Q975 248 970 243Q960 238 947 235Q920 235 890 235Q855 237 823 242L792 261"/>
</g>
<polygon id="star" points="486,497.500 488.350,504.760 496,504.760 489.800,509.240 492.170,516.500 486,512 479.830,516.500 482.200,509.240 476,504.760 483.650,504.760" fill="#000"/>
<g id="labels" transform="translate(0 1)">
<text x="512" y="71">172</text><text x="576" y="71">171</text><text x="635" y="71">170</text><text x="701" y="71">169</text><text x="763" y="71">168</text>
<text x="512" y="134">143</text><text x="576" y="134">142</text><text x="635" y="134">141</text><text x="701" y="134">140</text><text x="763" y="134">139</text>
<text x="512" y="198">118</text><text x="576" y="198">117</text><text x="635" y="198">116</text><text x="701" y="198">115</text><text x="763" y="198">114</text>
<text x="512" y="260">94</text><text x="575" y="260">93</text><text x="635" y="260">92</text><text x="700" y="260">91</text><text x="763" y="260">90</text>
<text x="512" y="321">69</text><text x="575" y="321">68</text><text x="635" y="321">67</text><text x="700" y="321">66</text><text x="763" y="321">65</text>
<text x="514" y="384">44</text><text x="572" y="385">43</text><text x="639" y="388">42</text><text x="700" y="384">41</text><text x="763" y="388">40</text>
<text x="511" y="446">23</text><text x="573" y="448">22</text><text x="637" y="444">21</text><text x="700" y="443">20</text><text x="763" y="446">19</text>
<text x="509" y="512">1</text><text x="574" y="512">2</text><text x="636" y="512">3</text><text x="697" y="510">4</text><text x="762" y="507">5</text>
<text x="506" y="573">10</text><text x="572" y="570">9</text><text x="633" y="570">8</text><text x="696" y="572">7</text><text x="762" y="574">6</text>
<text x="507" y="636">11</text><text x="574" y="636">12</text><text x="637" y="636">13</text><text x="702" y="636">14</text><text x="766" y="636">15</text>
<text x="512" y="698">27</text><text x="572" y="698">28</text><text x="636" y="700">29</text><text x="698" y="698">30</text><text x="763" y="698">31</text>
<text x="514" y="760">52</text><text x="571" y="760">53</text><text x="638" y="756">54</text><text x="697" y="758">55</text><text x="764" y="759">32</text>
<text x="511" y="822">77</text><text x="572" y="822">78</text><text x="635" y="822">79</text><text x="697" y="823">56</text><text x="764" y="822">57</text>
<text x="510" y="882">102</text><text x="574" y="882">103</text><text x="632" y="882">80</text><text x="698" y="882">81</text><text x="761" y="882">82</text>
<text x="574" y="946">104</text><text x="638" y="946">105</text><text x="701" y="946">106</text>
<text x="574" y="1004">127</text><text x="633" y="1004">128</text><text x="698" y="1004">129</text>
<text x="574" y="1071">155</text><text x="633" y="1071">156</text><text x="698" y="1071">157</text>
<text x="78" y="508">176</text><text x="141" y="508">147</text><text x="202" y="508">121</text><text x="260" y="508">97</text><text x="324" y="508">72</text><text x="380" y="508">47</text><text x="451" y="512">24</text>
<text x="78" y="572">177</text><text x="141" y="572">148</text><text x="202" y="572">122</text><text x="260" y="572">98</text><text x="324" y="572">73</text><text x="382" y="574">48</text><text x="448" y="573">25</text>
<text x="78" y="633">178</text><text x="141" y="633">149</text><text x="202" y="633">123</text><text x="260" y="633">99</text><text x="325" y="633">74</text><text x="389" y="636">49</text><text x="451" y="636">26</text>
<text x="817" y="512">18</text><text x="883" y="510">37</text><text x="951" y="508">62</text><text x="1012" y="507">87</text><text x="1070" y="507">111</text><text x="1137" y="507">135</text><text x="1199" y="507">164</text>
<text x="817" y="572">17</text><text x="884" y="570">36</text><text x="951" y="571">61</text><text x="1012" y="572">86</text><text x="1070" y="571">110</text><text x="1137" y="571">134</text><text x="1199" y="571">163</text>
<text x="822" y="636">16</text><text x="887" y="636">35</text><text x="951" y="632">60</text><text x="1012" y="633">85</text><text x="1070" y="632">109</text><text x="1137" y="632">133</text><text x="1199" y="632">162</text>
<text x="211" y="72">173</text><text x="257" y="139">144</text><text x="91" y="173">174</text><text x="298" y="203">119</text><text x="146" y="237">145</text><text x="211" y="274">120</text><text x="346" y="264">95</text><text x="273" y="327">96</text><text x="388" y="328">70</text><text x="330" y="386">71</text><text x="75" y="385">175</text><text x="135" y="386">146</text><text x="444" y="390">45</text><text x="389" y="442">46</text>
<text x="989" y="203">113</text><text x="1053" y="142">138</text><text x="1102" y="87">167</text><text x="1187" y="167">166</text><text x="1126" y="224">137</text><text x="937" y="267">89</text><text x="1063" y="283">112</text><text x="889" y="324">64</text><text x="1006" y="333">88</text><text x="949" y="391">63</text><text x="835" y="395">39</text><text x="883" y="444">38</text><text x="1137" y="374">136</text><text x="1200" y="374">165</text>
<text x="71" y="773">179</text><text x="133" y="773">150</text><text x="269" y="797">100</text><text x="325" y="754">75</text><text x="393" y="701">50</text><text x="444" y="752">51</text><text x="398" y="819">76</text><text x="208" y="845">124</text><text x="351" y="877">101</text><text x="143" y="907">151</text><text x="364" y="943">125</text><text x="364" y="1001">126</text><text x="85" y="961">152</text><text x="364" y="1071">153</text><text x="475" y="1071">154</text>
<text x="885" y="703">34</text><text x="835" y="753">33</text><text x="942" y="744">59</text><text x="881" y="821">58</text><text x="1002" y="798">84</text><text x="907" y="880">83</text><text x="1074" y="827">108</text><text x="1134" y="775">132</text><text x="1200" y="775">161</text><text x="1125" y="907">131</text><text x="907" y="943">107</text><text x="1187" y="957">160</text><text x="907" y="1007">130</text><text x="805" y="1072">158</text><text x="907" y="1072">159</text>
</g>
<g id="outer-labels" class="L" transform="translate(0 1)">
<text x="179" y="21">v</text><text x="512" y="15">u</text><text x="575" y="14">t</text><text x="638" y="13">s</text><text x="702" y="14">r</text><text x="763" y="13">q</text><text x="1090" y="16">p</text><text x="21" y="153">w</text><text x="1247" y="136">o</text><text x="17" y="365">x</text><text x="1260" y="357">n</text><text x="17" y="513">y</text><text x="1259" y="511">m</text><text x="17" y="575">z</text><text x="1261" y="575">l</text><text x="17" y="638">A</text><text x="1260" y="637">k</text><text x="17" y="811">B</text><text x="1261" y="791">i</text><text x="32" y="1000">C</text><text x="1261" y="965">h</text><text x="382" y="1142">a</text><text x="447" y="1142">b</text><text x="576" y="1142">c</text><text x="638" y="1142">d</text><text x="702" y="1142">e</text><text x="820" y="1142">f</text><text x="888" y="1142">g</text>
</g>
<g id="node-letters" class="G" transform="translate(0 1)">
<text x="448" y="541">u</text><text x="418" y="569">t</text><text x="482" y="571">r</text><text x="448" y="603">s</text><text x="324" y="603">m</text><text x="295" y="637">n</text><text x="358" y="635">p</text><text x="324" y="669">o</text>
<text x="795" y="571">r</text><text x="824" y="541">u</text><text x="855" y="571">t</text><text x="824" y="603">s</text><text x="949" y="605">m</text><text x="918" y="637">p</text><text x="979" y="635">n</text><text x="951" y="667">o</text>
<text x="575" y="914">k</text><text x="639" y="913">a</text><text x="702" y="915">b</text><text x="541" y="945">i</text><text x="732" y="944">c</text><text x="541" y="1006">h</text><text x="733" y="1006">d</text><text x="575" y="1040">g</text><text x="639" y="1040">f</text><text x="702" y="1040">e</text>
</g>
</svg>
